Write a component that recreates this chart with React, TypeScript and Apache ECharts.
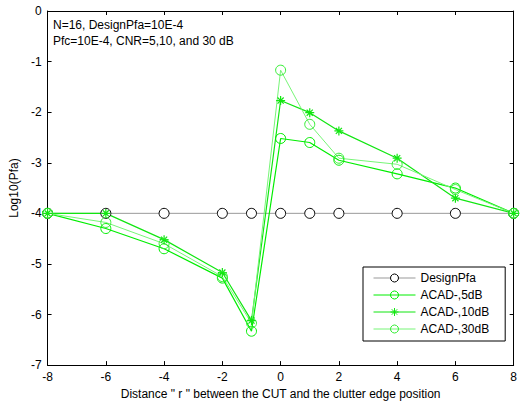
import React, { useEffect, useRef } from "react";
import * as echarts from "echarts";

const xs = [-8, -6, -4, -2, -1, 0, 1, 2, 4, 6, 8];
const designPfa = [-4, -4, -4, -4, -4, -4, -4, -4, -4, -4, -4];
const acad5 = [-4, -4.3, -4.7, -5.28, -6.33, -2.52, -2.6, -2.95, -3.22, -3.5, -4];
const acad10 = [-4, -4.0, -4.52, -5.17, -6.12, -1.77, -2.01, -2.37, -2.91, -3.7, -4];
const acad30 = [-4, -4.18, -4.6, -5.25, -6.17, -1.17, -2.24, -2.91, -3.03, -3.53, -4];
const xTicks = [-8, -6, -4, -2, 0, 2, 4, 6, 8];
const yTicks = [-7, -6, -5, -4, -3, -2, -1, 0];

const FONT = "Liberation Sans, Arial, sans-serif";
const STAR = "path://M0 5 L10 5 M5 0 L5 10 M1.6 1.6 L8.4 8.4 M8.4 1.6 L1.6 8.4";

function pairs(ys: number[]) {
  return xs.map((x, i) => [x, ys[i]]);
}

export default function App() {
  const ref = useRef<HTMLDivElement>(null);
  useEffect(() => {
    document.body.style.margin = "0";
    const chart = echarts.init(ref.current!, null, { renderer: "svg" });
    const axisLabel = { color: "#000", fontFamily: FONT, fontSize: 12 };
    const line = { show: true, onZero: false, lineStyle: { color: "#000", width: 1 } };
    const tick = { show: true, inside: true, length: 4, lineStyle: { color: "#000" } };
    chart.setOption({
      animation: false,
      backgroundColor: "#fff",
      grid: { left: 46, right: 2, top: 11, bottom: 39, containLabel: false },
      xAxis: [
        {
          type: "value", min: -8, max: 8, interval: 2,
          axisLine: line, axisTick: tick,
          axisLabel: { ...axisLabel, margin: 6, formatter: (v: number) => (xTicks.includes(v) ? String(v) : "") },
          splitLine: { show: false },
          name: 'Distance " r " between the CUT and the clutter edge position',
          nameLocation: "middle", nameGap: 22,
          nameTextStyle: { color: "#000", fontFamily: FONT, fontSize: 12 },
        },
        {
          type: "value", min: -8, max: 8, interval: 2, position: "top",
          axisLine: line, axisTick: tick,
          axisLabel: { show: false }, splitLine: { show: false },
        },
      ],
      yAxis: [
        {
          type: "value", min: -7, max: 0, interval: 1,
          axisLine: line, axisTick: tick,
          axisLabel: { ...axisLabel, margin: 6, formatter: (v: number) => (yTicks.includes(v) ? String(v) : "") },
          splitLine: { show: false },
          name: "Log10(Pfa)", nameLocation: "middle", nameGap: 26,
          nameTextStyle: { color: "#000", fontFamily: FONT, fontSize: 12 },
        },
        {
          type: "value", min: -7, max: 0, interval: 1, position: "right",
          axisLine: line, axisTick: tick,
          axisLabel: { show: false }, splitLine: { show: false },
        },
      ],
      legend: {
        left: 363, top: 267, orient: "vertical",
        backgroundColor: "#fff", borderColor: "#000", borderWidth: 1,
        padding: [5, 16, 6, 10], itemWidth: 42, itemHeight: 10, itemGap: 5,
        lineStyle: { width: 1 },
        itemStyle: { borderWidth: 1 },
        textStyle: { color: "#000", fontFamily: FONT, fontSize: 12 },
        data: ["DesignPfa", "ACAD-,5dB", "ACAD-,10dB", "ACAD-,30dB"],
      },
      graphic: [
        { type: "text", left: 53, top: 19, style: { text: "N=16, DesignPfa=10E-4", fill: "#000", font: `12px ${FONT}` } },
        { type: "text", left: 53, top: 35, style: { text: "Pfc=10E-4, CNR=5,10, and 30 dB", fill: "#000", font: `12px ${FONT}` } },
      ],
      series: [
        {
          name: "DesignPfa", type: "line", data: pairs(designPfa),
          symbol: "circle", symbolSize: 10, showAllSymbol: true,
          lineStyle: { color: "#999", width: 1 },
          itemStyle: { color: "#fff", borderColor: "#000", borderWidth: 1 },
        },
        {
          name: "ACAD-,5dB", type: "line", data: pairs(acad5),
          symbol: "circle", symbolSize: 10,
          lineStyle: { color: "#00ee00", width: 1.2 },
          itemStyle: { color: "transparent", borderColor: "#00ee00", borderWidth: 1 },
        },
        {
          name: "ACAD-,10dB", type: "line", data: pairs(acad10),
          symbol: STAR, symbolSize: 9,
          lineStyle: { color: "#11e611", width: 1.2 },
          itemStyle: { color: "transparent", borderColor: "#11e611", borderWidth: 1.2 },
        },
        {
          name: "ACAD-,30dB", type: "line", data: pairs(acad30),
          symbol: "circle", symbolSize: 10,
          lineStyle: { color: "#77f577", width: 1 },
          itemStyle: { color: "transparent", borderColor: "#33ee33", borderWidth: 1 },
        },
      ],
    });
    return () => chart.dispose();
  }, []);
  return <div ref={ref} style={{ width: 520, height: 405 }} />;
}
